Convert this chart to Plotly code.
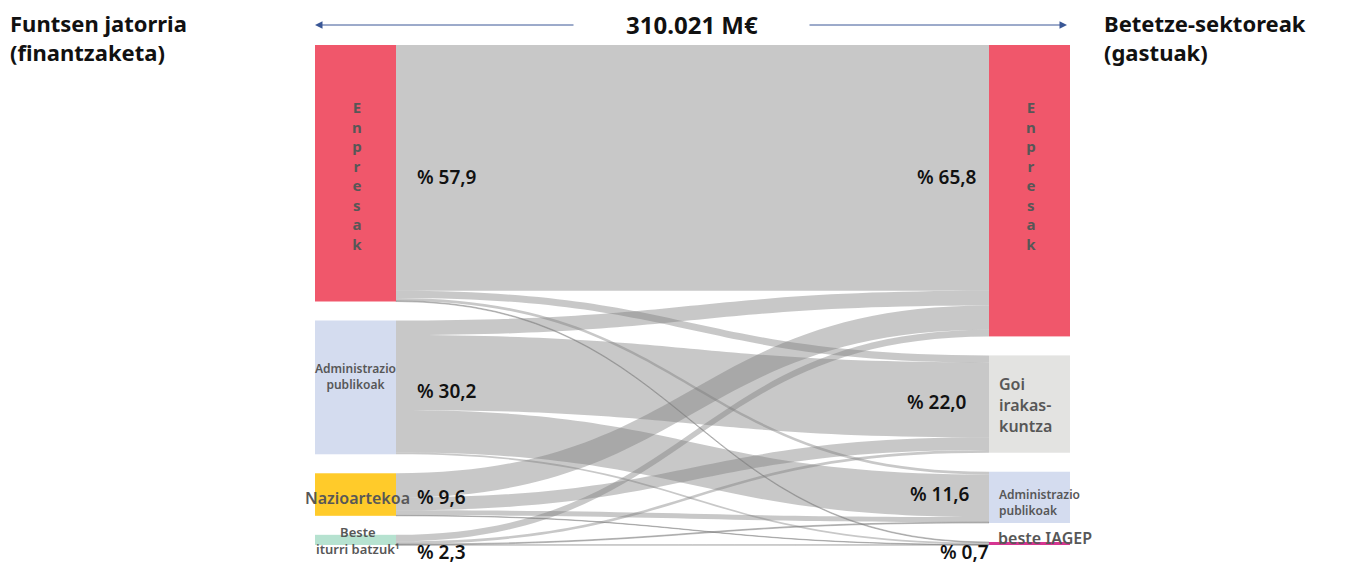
import plotly.graph_objects as go

# --- data: shares of R&D funding (%) --------------------------------------
source_names = ["Enpresak", "Administrazio publikoak", "Nazioartekoa", "Beste iturri batzuk"]
target_names = ["Enpresak", "Goi irakaskuntza", "Administrazio publikoak", "beste IAGEP"]
source_share = [57.9, 30.2, 9.6, 2.3]
target_share = [65.8, 22.0, 11.6, 0.7]
total_label = "310.021 M€"

# flows[source][target], in % of total expenditure
flow_enpresak = [55.5, 1.6, 0.62, 0.18]
flow_admin = [3.3, 16.9, 9.62, 0.38]
flow_nazio = [5.5, 2.87, 1.13, 0.10]
flow_beste = [1.48, 0.6, 0.20, 0.02]
flows = [flow_enpresak, flow_admin, flow_nazio, flow_beste]

# --- geometry of the figure ---------------------------------------------
W, H = 1354, 565
DX0, DX1 = 315, 1070          # sankey domain, px from left
DY0, DY1 = 45, 545            # sankey domain, px from top
PAD, THICK = 19, 81
dom_w, dom_h = DX1 - DX0, DY1 - DY0

src_tot = [sum(r) for r in flows]
tgt_tot = [sum(flows[i][j] for i in range(4)) for j in range(4)]
ky = (dom_h - 3 * PAD) / max(sum(src_tot), sum(tgt_tot))


def centers(values):
    out, y = [], 0.0
    for v in values:
        h = v * ky
        out.append((y + h / 2) / dom_h)
        y += h + PAD
    return out


node_x = [THICK / 2 / dom_w] * 4 + [1 - THICK / 2 / dom_w] * 4
node_y = centers(src_tot) + centers(tgt_tot)

node_colors = ["#F0576B", "#D4DCEF", "#FFCB2A", "#B6E2D0",
               "#F0576B", "#E3E3E1", "#D4DCEF", "#D63591"]

link_s, link_t, link_v = [], [], []
for i, row in enumerate(flows):
    for j, v in enumerate(row):
        link_s.append(i)
        link_t.append(4 + j)
        link_v.append(v)

fig = go.Figure(go.Sankey(
    arrangement="fixed",
    domain=dict(x=[DX0 / W, DX1 / W], y=[1 - DY1 / H, 1 - DY0 / H]),
    node=dict(
        label=[""] * 8,
        customdata=source_names + target_names,
        x=node_x, y=node_y,
        pad=PAD, thickness=THICK,
        color=node_colors,
        line=dict(width=0),
        hovertemplate="%{customdata}<extra></extra>",
    ),
    link=dict(
        source=link_s, target=link_t, value=link_v,
        color="rgba(123,123,123,0.42)",
        hoverinfo="none",
    ),
    textfont=dict(size=1, color="rgba(0,0,0,0)"),
))

FONT = "Noto Sans"
GREY = "#575757"
annotations = []


def txt(text, px, py, size, color="#111111", weight=700, xanchor="center",
        yanchor="middle", align="center"):
    annotations.append(dict(
        text=text, x=px / W, y=1 - py / H, xref="paper", yref="paper",
        xanchor=xanchor, yanchor=yanchor, align=align, showarrow=False,
        font=dict(family=FONT, size=size, color=color, weight=weight),
    ))


def fmt(v):
    return "% " + f"{v:.1f}".replace(".", ",")


# headings
txt("Funtsen jatorria<br>(finantzaketa)", 8, 37, 22, xanchor="left", align="left")
txt("Betetze-sektoreak<br>(gastuak)", 1102, 37, 22, xanchor="left", align="left")
txt(total_label, 692, 24, 24)

# total arrows
ARROW = "#3A5796"
for head, tail in [(315, 575), (1067, 808)]:
    annotations.append(dict(
        x=head / W, y=1 - 25 / H, xref="paper", yref="paper",
        ax=tail - head, ay=0, text="", showarrow=True,
        arrowhead=2, arrowsize=1.5, arrowwidth=1, arrowcolor=ARROW,
    ))

# node names
txt("<br>".join(source_names[0]), 357, 175, 15, GREY, 700)
txt("<br>".join(target_names[0]), 1031, 175, 15, GREY, 700)
txt("Administrazio<br>publikoak", 355, 376, 12, GREY, 600)
txt(source_names[2], 357, 498, 16, GREY, 600)
txt("Beste<br>iturri batzuk¹", 358, 540, 13, GREY, 600)
txt("Goi<br>irakas-<br>kuntza", 997, 405, 16, GREY, 600, xanchor="left", align="left")
txt("Administrazio<br>publikoak", 997, 502, 12, GREY, 600, xanchor="left", align="left")
txt(target_names[3], 996, 538, 16, GREY, 600, xanchor="left", align="left")

# share labels
src_label_y = [177, 391, 497, 552]
tgt_label_y = [177, 402, 494, 552]
tgt_label_x = [979, 969, 972, 991]
for v, y in zip(source_share, src_label_y):
    txt(fmt(v), 415, y, 19, "#111111", 600, xanchor="left")
for v, x, y in zip(target_share, tgt_label_x, tgt_label_y):
    txt(fmt(v), x, y, 19, "#111111", 600, xanchor="right")

fig.update_layout(
    width=W, height=H,
    margin=dict(l=0, r=0, t=0, b=0),
    paper_bgcolor="white", plot_bgcolor="white",
    font=dict(family=FONT),
    annotations=annotations,
)

fig.write_html("out.html")
